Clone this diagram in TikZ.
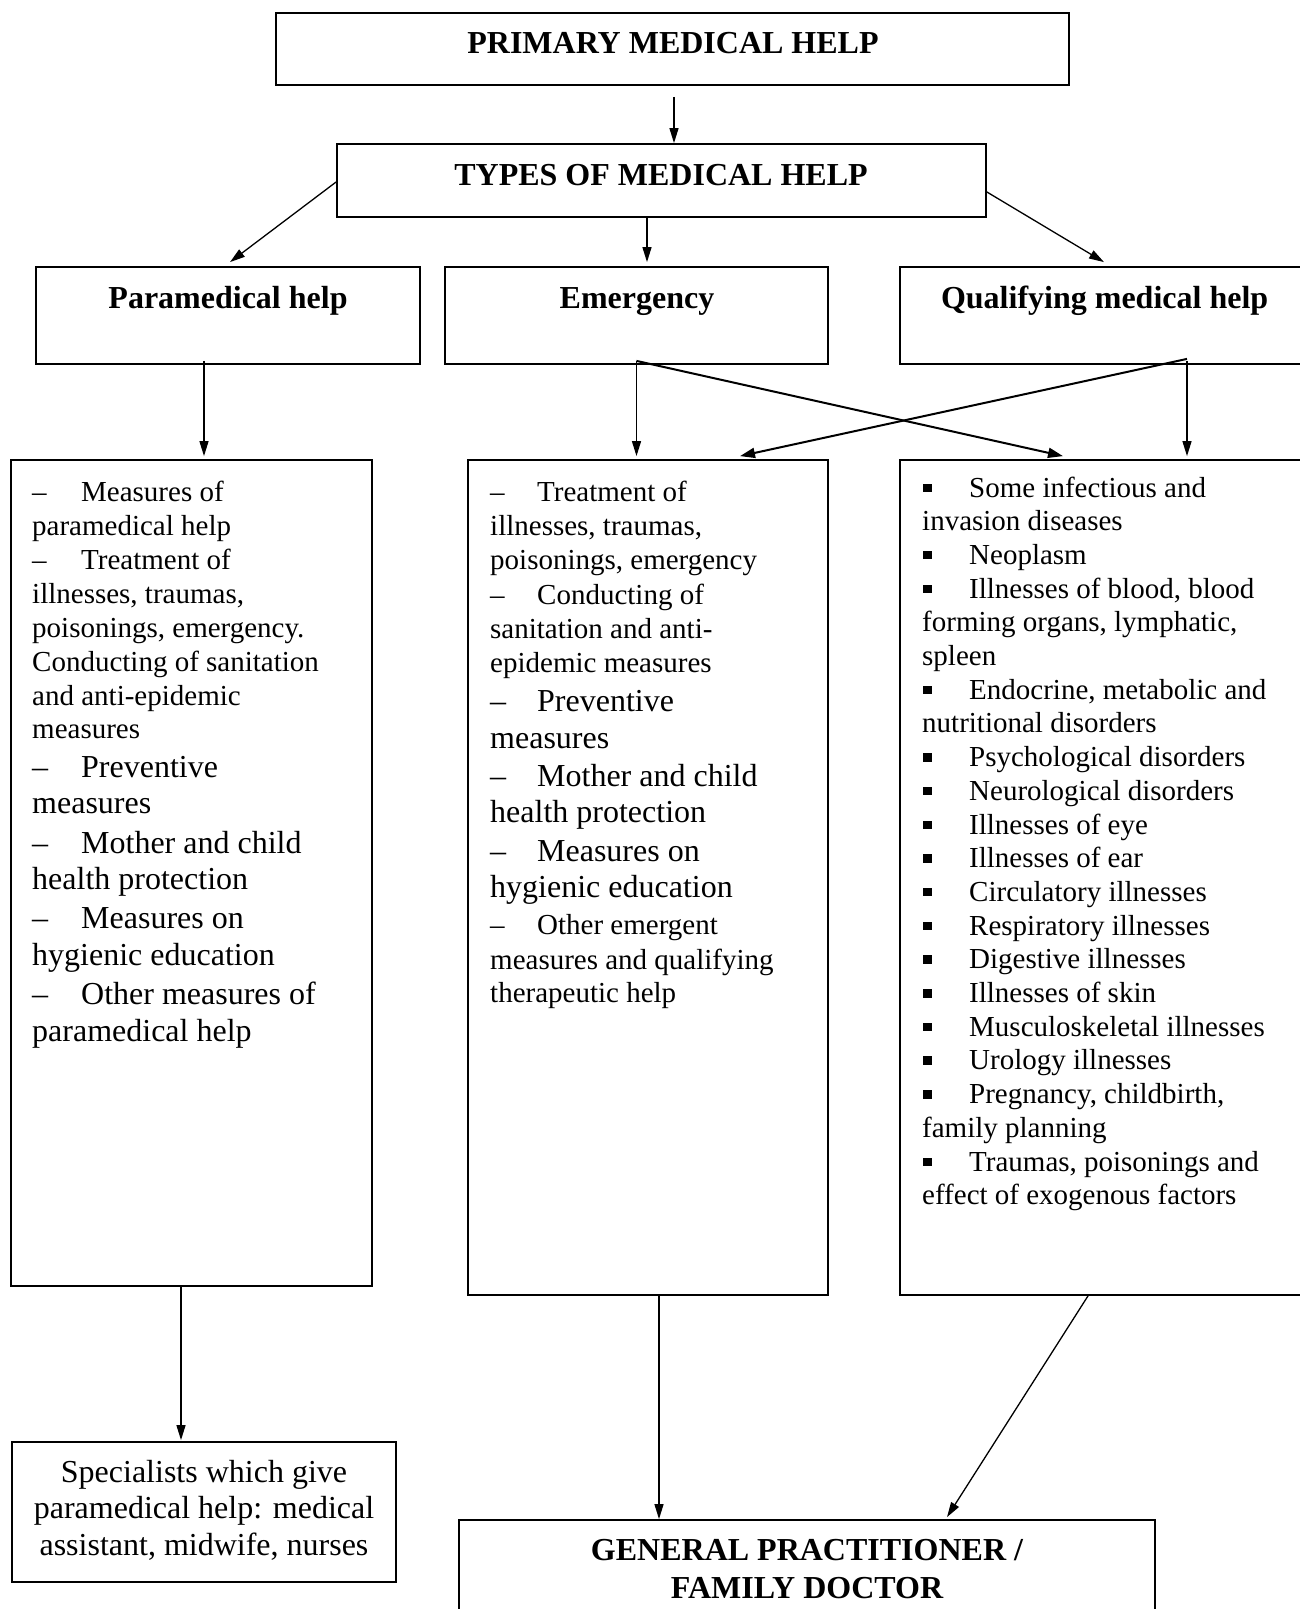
\documentclass[tikz,border=0pt]{standalone}
\usepackage{fontspec}
\setmainfont{Liberation Serif}
\usetikzlibrary{arrows.meta}

% list markers: en dash or small square followed by a fixed tab
\newcommand\dashL{\makebox[49pt][l]{–}}
\newcommand\dashM{\makebox[47pt][l]{–}}
\newcommand\sqb{\makebox[47pt][l]{\hspace{1pt}\rule[5pt]{8.5pt}{8.5pt}}}
\newcommand\bigtxt{\fontsize{32}{37}\selectfont}

\begin{document}
\begin{tikzpicture}[x=1pt,y=-1pt,
  box/.style={draw=black, line width=1.8pt, inner sep=0pt, fill=none},
  hd/.style={anchor=base, inner sep=0pt, font=\bfseries\fontsize{32}{38}\selectfont},
  ctxt/.style={anchor=base, inner sep=0pt, font=\fontsize{32}{37}\selectfont},
  txt/.style={anchor=base west, inner sep=0pt, font=\fontsize{29}{34}\selectfont},
  arr/.style={line width=1.3pt, -{Triangle[length=15pt,width=9pt]}},
  xarr/.style={line width=2pt, -{Triangle[length=15pt,width=10pt]}}]

\fill[white] (0,0) rectangle (1299,1609);
\useasboundingbox (0,0) rectangle (1299,1609);

% boxes
\node[box, minimum width=793pt, minimum height=72pt] (prim) at (672.5,49) {};
\node[box, minimum width=649pt, minimum height=73pt] (types) at (661.5,180.5) {};
\node[box, minimum width=384pt, minimum height=97pt] (para) at (228,315.5) {};
\node[box, minimum width=383pt, minimum height=97pt] (emer) at (636.5,315.5) {};
\node[box, minimum width=409pt, minimum height=97pt] (qual) at (1104.5,315.5) {};
\node[box, minimum width=361pt, minimum height=826pt] (left) at (191.5,873) {};
\node[box, minimum width=360pt, minimum height=835pt] (mid) at (648,877.5) {};
\node[box, minimum width=409pt, minimum height=835pt] (right) at (1104.5,877.5) {};
\node[box, minimum width=384pt, minimum height=140pt] (spec) at (204,1512) {};
\node[box, minimum width=696pt, minimum height=121pt] (gp) at (807,1580.5) {};

% headings
\node[hd] (tprim) at (673,53) {PRIMARY MEDICAL HELP};
\node[hd] (ttypes) at (661,185) {TYPES OF MEDICAL HELP};
\node[hd] (tpara) at (228,308) {Paramedical help};
\node[hd] (temer) at (637,308) {Emergency};
\node[hd] (tqual) at (1104.6,308) {Qualifying medical help};
\node[hd] (tgp1) at (807,1560) {GENERAL PRACTITIONER /};
\node[hd] (tgp2) at (807,1598) {FAMILY DOCTOR};

% specialists
\node[ctxt] (ts1) at (204,1482) {Specialists which give};
\node[ctxt] (ts2) at (204,1518) {paramedical help: medical};
\node[ctxt] (ts3) at (204,1555) {assistant, midwife, nurses};

% paramedical measures
\foreach \y/\t [count=\i] in {
  501/{\dashL Measures of},
  535/{paramedical help},
  569/{\dashL Treatment of},
  603/{illnesses, traumas,},
  637/{poisonings, emergency.},
  671/{Conducting of sanitation},
  705/{and anti-epidemic},
  738/{measures},
  777/{\bigtxt\dashL Preventive},
  813/{\bigtxt measures},
  853/{\bigtxt\dashL Mother and child},
  889/{\bigtxt health protection},
  928/{\bigtxt\dashL Measures on},
  965/{\bigtxt hygienic education},
  1004/{\bigtxt\dashL Other measures of},
  1041/{\bigtxt paramedical help}}
  {\node[txt] (lt\i) at (32,\y) {\t};}

% emergency measures
\foreach \y/\t [count=\i] in {
  501/{\dashM Treatment of},
  535/{illnesses, traumas,},
  569/{poisonings, emergency},
  604/{\dashM Conducting of},
  638/{sanitation and anti-},
  672/{epidemic measures},
  711/{\bigtxt\dashM Preventive},
  748/{\bigtxt measures},
  786/{\bigtxt\dashM Mother and child},
  822/{\bigtxt health protection},
  861/{\bigtxt\dashM Measures on},
  897/{\bigtxt hygienic education},
  934/{\dashM Other emergent},
  969/{measures and qualifying},
  1002/{therapeutic help}}
  {\node[txt] (mt\i) at (490,\y) {\t};}

% qualifying help: groups of diseases
\foreach \k/\t [count=\i] in {
  0/{\sqb Some infectious and},
  1/{invasion diseases},
  2/{\sqb Neoplasm},
  3/{\sqb Illnesses of blood, blood},
  4/{forming organs, lymphatic,},
  5/{spleen},
  6/{\sqb Endocrine, metabolic and},
  7/{nutritional disorders},
  8/{\sqb Psychological disorders},
  9/{\sqb Neurological disorders},
  10/{\sqb Illnesses of eye},
  11/{\sqb Illnesses of ear},
  12/{\sqb Circulatory illnesses},
  13/{\sqb Respiratory illnesses},
  14/{\sqb Digestive illnesses},
  15/{\sqb Illnesses of skin},
  16/{\sqb Musculoskeletal illnesses},
  17/{\sqb Urology illnesses},
  18/{\sqb Pregnancy, childbirth,},
  19/{family planning},
  20/{\sqb Traumas, poisonings and},
  21/{effect of exogenous factors}}
  {\node[txt] (rt\i) at (922,{497+33.7*\k}) {\t};}

% connectors
\draw[arr] ([xshift=1.5pt,yshift=-11pt]prim.south) -- ([xshift=12.5pt]types.north);
\draw[arr] ([yshift=-1.5pt]types.west) -- ([xshift=2pt,yshift=4pt]para.north);
\draw[arr] ([xshift=-14.5pt]types.south) -- ([xshift=10.5pt,yshift=4pt]emer.north);
\draw[arr] ([yshift=-11.5pt]types.east) -- ([xshift=-0.5pt,yshift=4pt]qual.north);

\draw[arr] ([xshift=-24pt,yshift=4pt]para.south) -- ([xshift=12.5pt,yshift=3pt]left.north);
\draw[arr] ([yshift=4pt]emer.south) -- ([xshift=-11.5pt,yshift=3pt]mid.north);
\draw[xarr] ([yshift=4pt]emer.south) -- ([xshift=-41.5pt,yshift=3pt]right.north);
\draw[xarr] ([xshift=82.5pt,yshift=6pt]qual.south) -- ([xshift=92pt,yshift=3pt]mid.north);
\draw[arr] ([xshift=82.5pt,yshift=4pt]qual.south) -- ([xshift=82.5pt,yshift=3pt]right.north);

\draw[arr] ([xshift=-10.5pt]left.south) -- ([xshift=-23pt,yshift=1pt]spec.north);
\draw[arr] ([xshift=11pt]mid.south) -- ([xshift=-148pt]gp.north);
\draw[arr] ([xshift=-16.5pt]right.south) -- ([xshift=140pt,yshift=2pt]gp.north);

\end{tikzpicture}
\end{document}
